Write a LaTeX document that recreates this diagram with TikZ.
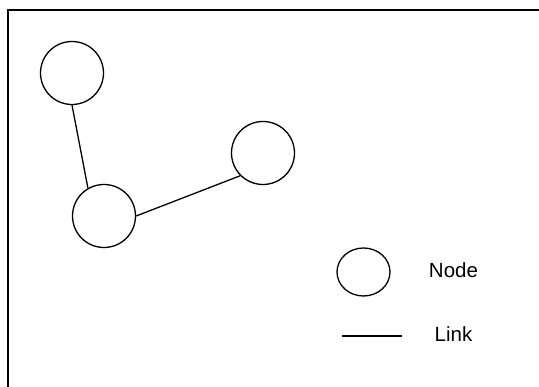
\documentclass[tikz,border=0pt]{standalone}
\usepackage{fontspec}
\setmainfont{Liberation Sans}
\usetikzlibrary{shapes.geometric}
\begin{document}
\begin{tikzpicture}[x=1pt,y=1pt,
  vertex/.style={circle,draw,line width=1.3pt,minimum size=63pt,inner sep=0pt},
  legendvertex/.style={ellipse,draw,line width=1.3pt,minimum width=53pt,minimum height=48pt,inner sep=0pt},
  edge/.style={line width=1.3pt},
  frame/.style={line width=2pt},
  label/.style={font=\fontsize{20.5}{24}\selectfont,inner sep=0pt}]
\useasboundingbox (0,0) rectangle (539,387);
% outer frame (runs off the page on the right and bottom)
\coordinate (fbl) at (8,-10);
\coordinate (ftl) at (8,377);
\coordinate (ftr) at (550,377);
\draw[frame] (fbl) -- (ftl) -- (ftr);
% graph
\node[vertex] (a) at (72,314) {};
\node[vertex] (b) at (104,171) {};
\node[vertex] (c) at (263,234) {};
\draw[edge] (a.south) -- (b.120);
\draw[edge] (b.east) -- (c.225);
% legend
\node[legendvertex] (lnode) at (363.5,115) {};
\node[label] (tnode) at (453.5,117) {Node};
\coordinate (l1) at (342,51);
\coordinate (l2) at (402,51);
\draw[edge] (l1) -- (l2);
\node[label] (tlink) at (453.5,53) {Link};
\end{tikzpicture}
\end{document}
